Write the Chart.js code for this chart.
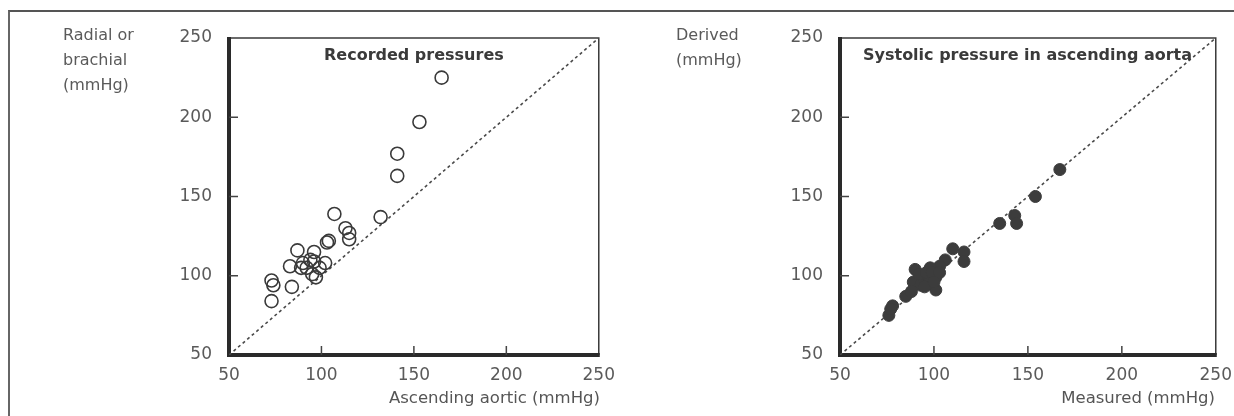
<!DOCTYPE html>
<html>
<head>
<meta charset="utf-8">
<script src="https://cdn.jsdelivr.net/npm/chart.js@4/dist/chart.umd.min.js"></script>
<style>
  body { margin: 0; background: #fff; width: 1234px; height: 416px; overflow: hidden; position: relative; font-family: "DejaVu Sans", sans-serif; color: #555; }
  #frame { position: absolute; left: 8px; top: 10px; width: 1226px; height: 406px; border-top: 2px solid #555; border-left: 2px solid #666; box-sizing: border-box; }
  .chart-box { position: absolute; top: 0; width: 617px; height: 416px; }
  .lbl { position: absolute; font-size: 16px; line-height: 25px; color: #5a5a5a; white-space: nowrap; }
  .xlbl { position: absolute; font-size: 16.5px; line-height: 20px; color: #555; white-space: nowrap; }
  .ttl { position: absolute; font-size: 16px; line-height: 20px; font-weight: bold; color: #3a3a3a; white-space: nowrap; }
</style>
</head>
<body>
<div id="frame"></div>
<div class="chart-box" style="left:0"><canvas id="recordedChart" width="617" height="416"></canvas></div>
<div class="chart-box" style="left:617px"><canvas id="derivedChart" width="617" height="416"></canvas></div>

<div class="lbl" style="left:63px;top:22px">Radial or<br>brachial<br>(mmHg)</div>
<div class="lbl" style="left:676px;top:22px">Derived<br>(mmHg)</div>
<div class="xlbl" style="right:634px;top:388px">Ascending aortic (mmHg)</div>
<div class="xlbl" style="right:19px;top:388px">Measured (mmHg)</div>
<div class="ttl" style="left:324px;top:45px">Recorded pressures</div>
<div class="ttl" style="left:863px;top:45px">Systolic pressure in ascending aorta</div>

<script>
// recorded: ascending aortic vs radial/brachial
const recordedAortic = [165, 153, 141, 141, 107, 132, 113, 115, 115, 104, 103, 87, 96, 94, 83, 89, 92, 99, 102, 95, 97, 73, 74, 84, 73, 90, 96];
const recordedPeripheral = [225, 197, 177, 163, 139, 137, 130, 127, 123, 122, 121, 116, 115, 110, 106, 105, 105, 105, 108, 101, 99, 97, 94, 93, 84, 108, 109];

// derived vs measured systolic pressure in ascending aorta
const measuredAortic = [167, 154, 135, 143, 144, 110, 116, 116, 106, 103, 90, 98, 94, 101, 89, 101, 85, 78, 76, 77, 92, 96, 93, 97, 99, 88, 95, 103, 100];
const derivedAortic = [167, 150, 133, 138, 133, 117, 115, 109, 110, 106, 104, 105, 98, 99, 96, 91, 87, 81, 75, 79, 101, 102, 94, 95, 102, 90, 93, 102, 96];

const axisTicks = [50, 100, 150, 200, 250];
const identityLine = [50, 250];

const toPoints = (xs, ys) => xs.map((x, i) => ({ x, y: ys[i] }));

const framePlugin = {
  id: "frame",
  beforeDatasetsDraw(chart) {
    const { ctx, chartArea: a, scales } = chart;
    ctx.save();
    // thin top and right
    ctx.strokeStyle = "#3a3a3a";
    ctx.lineWidth = 1.5;
    ctx.beginPath();
    ctx.moveTo(a.left, a.top);
    ctx.lineTo(a.right, a.top);
    ctx.lineTo(a.right, a.bottom);
    ctx.stroke();
    // thick left and bottom
    ctx.strokeStyle = "#2a2a2a";
    ctx.lineWidth = 4;
    ctx.beginPath();
    ctx.moveTo(a.left, a.top - 1);
    ctx.lineTo(a.left, a.bottom);
    ctx.lineTo(a.right + 1, a.bottom);
    ctx.stroke();
    // inward ticks
    ctx.lineWidth = 1.5;
    ctx.strokeStyle = "#444";
    axisTicks.slice(1, -1).forEach((v) => {
      const px = scales.x.getPixelForValue(v);
      const py = scales.y.getPixelForValue(v);
      ctx.beginPath();
      ctx.moveTo(px, a.bottom);
      ctx.lineTo(px, a.bottom - 9);
      ctx.moveTo(a.left, py);
      ctx.lineTo(a.left + 9, py);
      ctx.stroke();
    });
    ctx.restore();
  },
};

function makeScatter(canvasId, xs, ys, filled, padLeft, padRight) {
  const canvas = document.getElementById(canvasId);
  const tickFont = { family: "DejaVu Sans", size: 17 };
  // eslint-disable-next-line no-new
  new Chart(canvas, {
    type: "scatter",
    data: {
      datasets: [
        {
          data: toPoints(xs, ys),
          pointRadius: filled ? 6 : 6.5,
          pointBackgroundColor: filled ? "#3c3c3c" : "rgba(0,0,0,0)",
          pointBorderColor: filled ? "#3c3c3c" : "#3a3a3a",
          pointBorderWidth: filled ? 1 : 1.6,
        },
        {
          type: "line",
          data: toPoints(identityLine, identityLine),
          borderColor: "#4a4a4a",
          borderWidth: 1.6,
          borderDash: [3, 3],
          pointRadius: 0,
          fill: false,
        },
      ],
    },
    options: {
      responsive: false,
      animation: false,
      layout: { padding: { left: padLeft, right: padRight, top: 38, bottom: 0 } },
      plugins: { legend: { display: false }, tooltip: { enabled: false } },
      scales: {
        x: {
          type: "linear",
          min: 50,
          max: 250,
          afterBuildTicks: (s) => { s.ticks = axisTicks.map((v) => ({ value: v })); },
          afterFit: (s) => { s.height = 61; },
          grid: { display: false },
          border: { display: false },
          ticks: { color: "#5a5a5a", font: tickFont, padding: 2, maxRotation: 0 },
        },
        y: {
          type: "linear",
          min: 50,
          max: 250,
          afterBuildTicks: (s) => { s.ticks = axisTicks.map((v) => ({ value: v })); },
          afterFit: (s) => { s.width = 60; },
          grid: { display: false },
          border: { display: false },
          ticks: { color: "#5a5a5a", font: tickFont, padding: 9 },
        },
      },
    },
    plugins: [framePlugin],
  });
}

makeScatter("recordedChart", recordedAortic, recordedPeripheral, false, 169, 7);
makeScatter("derivedChart", measuredAortic, derivedAortic, true, 163, 15);
</script>
</body>
</html>
